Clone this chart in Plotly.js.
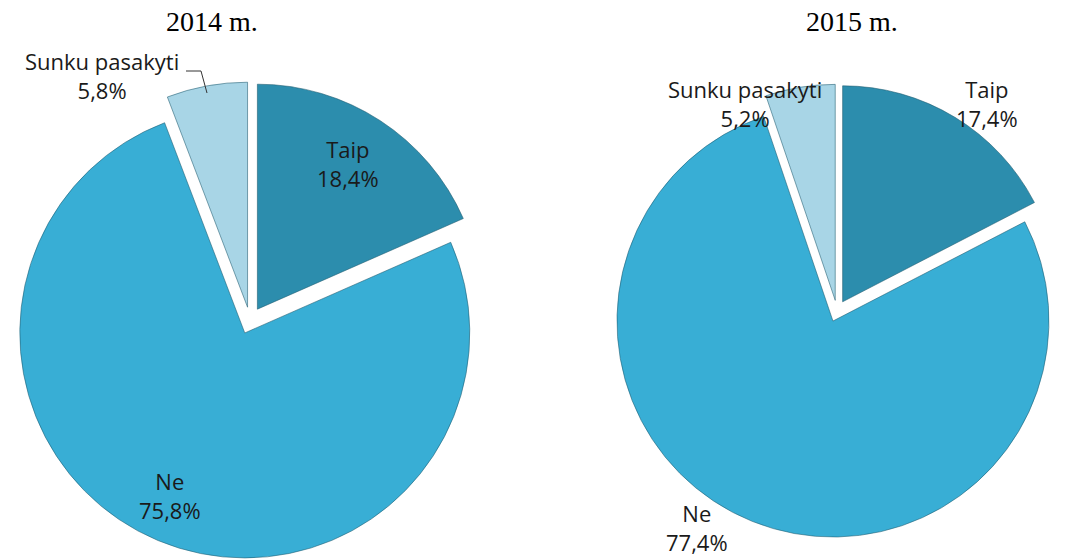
<!DOCTYPE html>
<html>
<head>
<meta charset="utf-8">
<script src="https://cdn.plot.ly/plotly-3.0.1.min.js"></script>
<style>html,body{margin:0;padding:0;background:#fff;}#chart{width:1067px;height:560px;}</style>
</head>
<body>
<div id="chart"></div>
<script>
// ---- data ----
const categories = ["Taip", "Ne", "Sunku pasakyti"];
const values2014 = [18.4, 75.8, 5.8];
const values2015 = [17.4, 77.4, 5.2];
const years = ["2014 m.", "2015 m."];
const sliceColors = ["#2c8dad", "#38aed5", "#a8d5e6"];

const W = 1067, H = 560;
const px = x => x / W;
const py = y => 1 - y / H;
const fmt = v => v.toFixed(1).replace(".", ",") + "%";

function pieTrace(vals, dom, pull) {
  return {
    type: "pie",
    labels: categories,
    values: vals,
    sort: false,
    direction: "clockwise",
    rotation: 0,
    pull: pull,
    textinfo: "none",
    hoverinfo: "label+percent",
    marker: {colors: sliceColors, line: {color: "rgba(30,90,110,0.55)", width: 1}},
    domain: dom,
    showlegend: false
  };
}

const data = [
  pieTrace(values2014, {x: [px(11.5), px(488.5)], y: [0.0018, 0.8536]}, [0.06, 0.06, 0.06]),
  pieTrace(values2015, {x: [px(610.2), px(1063.8)], y: [0.0396, 0.8496]}, [0.05, 0.05, 0.05])
];

const labFont = {family: "'Open Sans', 'Noto Sans', sans-serif", size: 22, color: "#1a1a1a"};
const titleFont = {family: "'Liberation Serif', 'Times New Roman', serif", size: 28, color: "#000"};

function lab(i, vals, x, y) {
  return {text: categories[i] + "<br>" + fmt(vals[i]), x: px(x), y: py(y), xref: "paper", yref: "paper",
          showarrow: false, font: labFont, xanchor: "center", yanchor: "middle", align: "center"};
}

const annotations = [
  {text: years[0], x: px(212), y: py(22), xref: "paper", yref: "paper", showarrow: false, font: titleFont, xanchor: "center", yanchor: "middle"},
  {text: years[1], x: px(852), y: py(22), xref: "paper", yref: "paper", showarrow: false, font: titleFont, xanchor: "center", yanchor: "middle"},
  lab(0, values2014, 348, 163),
  lab(1, values2014, 170, 495),
  lab(2, values2014, 102, 76),
  lab(0, values2015, 987, 103),
  lab(1, values2015, 697, 527),
  lab(2, values2015, 745, 103)
];

const shapes = [
  {type: "path", xref: "paper", yref: "paper",
   path: `M ${px(186)} ${py(71)} L ${px(201)} ${py(71)} L ${px(207)} ${py(93)}`,
   line: {color: "#333", width: 1}}
];

const layout = {
  width: W, height: H,
  margin: {l: 0, r: 0, t: 0, b: 0},
  paper_bgcolor: "#fff",
  plot_bgcolor: "#fff",
  annotations: annotations,
  shapes: shapes,
  showlegend: false
};

Plotly.newPlot("chart", data, layout, {displayModeBar: false, staticPlot: true});
</script>
</body>
</html>
